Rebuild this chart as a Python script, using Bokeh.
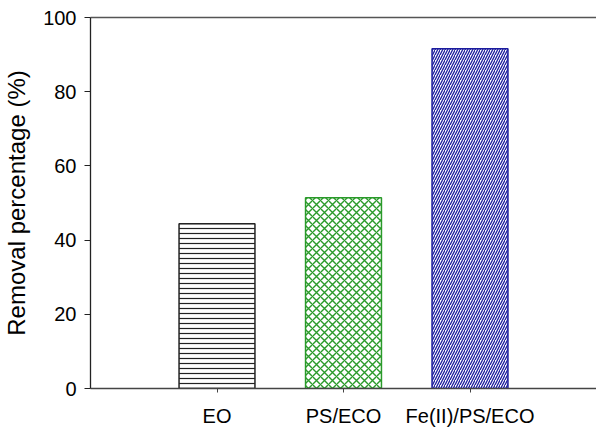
from bokeh.plotting import figure
from bokeh.models import LinearAxis, FixedTicker, Range1d
from bokeh.embed import file_html
from bokeh.resources import INLINE

categories = ["EO", "PS/ECO", "Fe(II)/PS/ECO"]
values = [44.4, 51.4, 91.6]
colors = ["#222222", "#2a9a2a", "#1c1c9e"]
hatches = ["-", "x", "/"]
hatch_scales = [5, 8, 5]
hatch_weights = [1.2, 1.4, 1.3]
y_ticks = [0, 20, 40, 60, 80, 100]

FONT = "Liberation Sans"

positions = list(range(1, len(categories) + 1))

p = figure(width=596, height=429, output_backend="svg", toolbar_location=None,
           x_range=Range1d(0, 4), y_range=Range1d(0, 100),
           min_border_left=90, min_border_right=0, min_border_top=17, min_border_bottom=41)
p.grid.visible = False
p.outline_line_color = None
p.background_fill_color = "white"
p.border_fill_color = "white"

for i, (xp, v) in enumerate(zip(positions, values)):
    p.vbar(x=[xp], top=[v], bottom=0, width=0.6,
           fill_color="white", line_color=colors[i], line_width=1.5,
           hatch_pattern=hatches[i], hatch_color=colors[i],
           hatch_scale=hatch_scales[i], hatch_weight=hatch_weights[i])

# y axis
ya = p.yaxis[0]
ya.ticker = FixedTicker(ticks=y_ticks)
ya.axis_label = "Removal percentage (%)"
ya.axis_label_text_font = FONT
ya.axis_label_text_font_size = "24px"
ya.axis_label_text_font_style = "normal"
ya.axis_label_text_color = "black"
ya.axis_label_standoff = 10
ya.major_label_text_font = FONT
ya.major_label_text_font_size = "20px"
ya.major_label_text_color = "black"
ya.major_label_standoff = 8
ya.major_tick_out = 6
ya.major_tick_in = 0
ya.minor_tick_line_color = None
ya.axis_line_color = "#222222"
ya.major_tick_line_color = "#222222"
ya.axis_line_width = 1.3

# x axis
xa = p.xaxis[0]
xa.ticker = FixedTicker(ticks=positions)
xa.major_label_overrides = {xp: c for xp, c in zip(positions, categories)}
xa.major_label_text_font = FONT
xa.major_label_text_font_size = "20px"
xa.major_label_text_color = "black"
xa.major_label_standoff = 12
xa.major_tick_out = 4
xa.major_tick_in = 0
xa.minor_tick_line_color = None
xa.axis_line_color = "#444444"
xa.major_tick_line_color = "#444444"
xa.axis_line_width = 1.5

# top line
top = LinearAxis(ticker=FixedTicker(ticks=[]), major_label_text_font_size="0px",
                 major_tick_line_color=None, minor_tick_line_color=None,
                 axis_line_color="#555555", axis_line_width=1.5)
p.add_layout(top, "above")

open("out.html", "w").write(file_html(p, INLINE))
